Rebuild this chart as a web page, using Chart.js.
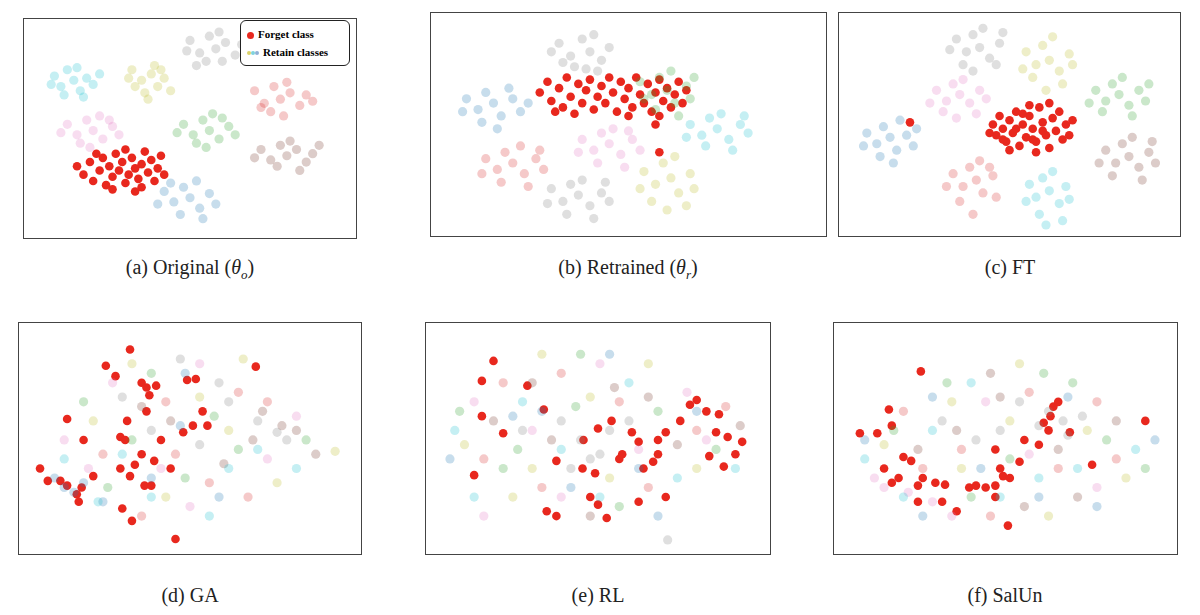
<!DOCTYPE html>
<html><head><meta charset="utf-8">
<script src="https://cdn.jsdelivr.net/npm/chart.js@4/dist/chart.umd.min.js"></script>
<style>
body{margin:0;background:#fff;width:1200px;height:615px;position:relative;overflow:hidden;font-family:"Liberation Serif",serif}
.box{position:absolute;border:1px solid #444;box-sizing:border-box}
.box canvas{position:absolute;left:0;top:0}
.cap{position:absolute;font-size:20px;transform:translateX(-50%);white-space:nowrap;color:#222}
.legend{position:absolute;left:240px;top:20px;width:110px;height:46px;border:1px solid #222;border-radius:6px;background:#fff;box-sizing:border-box;font-weight:bold;font-size:11px;padding:4px 0 0 6px;line-height:18px;z-index:5}
.dot{display:inline-block;width:7px;height:7px;border-radius:50%;margin-right:4px;vertical-align:middle}
.sd{display:inline-block;width:4px;height:4px;border-radius:50%;margin-right:0;vertical-align:middle}
</style></head><body>
<div class="box" style="left:23px;top:18px;width:334px;height:221px"><canvas id="ca"></canvas></div>
<div class="box" style="left:430px;top:12px;width:397px;height:225px"><canvas id="cb"></canvas></div>
<div class="box" style="left:838px;top:12px;width:343px;height:225px"><canvas id="cc"></canvas></div>
<div class="box" style="left:18px;top:322px;width:344px;height:233px"><canvas id="cd"></canvas></div>
<div class="box" style="left:425px;top:322px;width:346px;height:233px"><canvas id="ce"></canvas></div>
<div class="box" style="left:833px;top:322px;width:345px;height:233px"><canvas id="cf"></canvas></div>
<div class="legend"><span class="dot" style="background:#e8281e"></span>Forget class<br><span class="sd" style="background:#dcd36a"></span><span class="sd" style="background:#7fd3dd"></span><span class="sd" style="background:#8fb0d6;margin-right:4px"></span>Retain classes</div>
<div class="cap" style="left:190px;top:256px">(a) Original (<i>θ<sub style="font-size:13px">o</sub></i>)</div>
<div class="cap" style="left:628px;top:256px">(b) Retrained (<i>θ<sub style="font-size:13px">r</sub></i>)</div>
<div class="cap" style="left:1010px;top:256px">(c) FT</div>
<div class="cap" style="left:190px;top:584px">(d) GA</div>
<div class="cap" style="left:598px;top:584px">(e) RL</div>
<div class="cap" style="left:1005px;top:584px">(f) SalUn</div>
<script>
const colors={cyan:'rgba(23,190,207,0.25)',olive:'rgba(188,189,34,0.25)',gray:'rgba(127,127,127,0.25)',salmon:'rgba(214,39,40,0.25)',pink:'rgba(227,119,194,0.25)',green:'rgba(44,160,44,0.25)',brown:'rgba(140,86,75,0.3)',blue:'rgba(31,119,180,0.25)',forget:'#e8281e'};
// Panel (a) — percent of box
const aCyan=[[8,25],[10,30],[12,22],[14,27],[16,32],[18,26],[20,29],[11,34],[15,21],[22,24],[7,29],[17,35]];
const aOlive=[[32,22],[35,27],[38,24],[40,30],[36,33],[42,26],[33,30],[39,20],[44,32],[31,26],[37,36],[41,22]];
const aGray=[[50,8],[53,14],[56,6],[58,12],[61,9],[64,15],[55,18],[52,20],[60,18],[66,10],[49,13],[59,4]];
const aSalmon=[[70,32],[73,38],[76,30],[78,36],[81,33],[84,39],[75,42],[80,28],[86,34],[72,40],[79,44],[88,37]];
const aPink=[[12,48],[15,53],[18,46],[20,51],[23,55],[26,49],[16,57],[22,44],[28,53],[10,52],[19,59],[25,46]];
const aGreen=[[48,48],[51,53],[54,46],[56,51],[59,55],[62,49],[52,57],[57,43],[64,53],[46,52],[55,59],[60,45]];
const aBrown=[[72,60],[75,65],[78,58],[80,63],[83,60],[86,66],[77,68],[81,56],[88,62],[70,64],[84,70],[90,58]];
const aBlue=[[42,80],[45,85],[48,78],[50,83],[53,88],[56,81],[47,91],[52,75],[58,86],[40,86],[54,93],[44,76]];
const aForget=[[15,68],[17,72],[19,66],[20,75],[22,70],[23,64],[24,77],[25,68],[26,73],[27,62],[28,70],[29,66],[30,76],[31,72],[32,64],[33,69],[34,74],[35,67],[36,61],[37,71],[38,65],[39,75],[40,69],[41,63],[42,72],[26,79],[33,80],[21,62],[35,78],[30,60]];
// Panel (b)
const bGray=[[32,12],[35,18],[38,10],[40,16],[43,20],[36,23],[41,8],[45,14],[33,21],[39,24],[30,16],[42,25]];
const bBlue=[[8,38],[11,43],[13,35],[15,40],[17,46],[20,38],[12,49],[19,33],[22,44],[7,44],[16,52],[24,40]];
const bGreen=[[53,30],[56,36],[58,28],[60,34],[62,40],[65,32],[57,43],[61,25],[66,38],[54,38],[63,46],[67,28]];
const bCyan=[[66,50],[69,55],[71,47],[73,52],[76,57],[79,50],[70,60],[74,45],[81,54],[65,56],[77,62],[80,46]];
const bPink=[[38,57],[41,62],[43,54],[45,59],[48,64],[51,57],[42,68],[46,52],[53,62],[37,63],[49,70],[50,53]];
const bSalmon=[[13,66],[16,71],[18,63],[20,68],[23,73],[26,66],[17,77],[22,60],[28,71],[12,73],[24,79],[27,62]];
const bGray2=[[30,80],[33,86],[35,78],[37,83],[40,88],[43,82],[34,92],[38,76],[45,86],[29,87],[41,94],[44,77]];
const bOlive=[[54,72],[57,78],[59,68],[61,75],[63,82],[66,73],[56,86],[60,90],[65,88],[53,80],[62,65],[67,80]];
const bForget=[[27,35],[29,30],[30,39],[32,33],[33,42],[34,28],[35,37],[36,45],[37,31],[38,40],[39,34],[40,29],[41,43],[42,37],[43,32],[44,40],[45,28],[46,35],[47,44],[48,30],[49,38],[50,33],[51,42],[52,28],[53,36],[54,40],[55,31],[56,44],[57,35],[58,29],[59,39],[60,33],[61,42],[62,36],[63,30],[64,40],[65,34],[31,44],[50,46],[58,46],[57,50],[58,63]];
// Panel (c)
const cGray=[[34,10],[37,16],[39,8],[41,14],[44,19],[47,12],[36,22],[42,5],[46,22],[32,15],[39,25],[48,7]];
const cOlive=[[55,16],[58,22],[60,13],[62,20],[65,25],[68,17],[57,28],[63,9],[66,31],[54,24],[61,34],[69,22]];
const cPink=[[28,34],[31,39],[33,31],[35,36],[38,40],[41,34],[30,44],[36,29],[40,45],[26,40],[34,47],[43,38]];
const cGreen=[[76,34],[79,39],[81,31],[83,36],[86,41],[89,34],[78,44],[84,28],[91,39],[74,40],[87,46],[92,31]];
const cBlue=[[7,54],[10,59],[12,51],[14,56],[16,62],[19,55],[11,65],[17,48],[21,60],[6,60],[15,68],[22,52]];
const cBrown=[[79,62],[82,68],[84,59],[86,65],[89,70],[92,63],[81,74],[87,56],[94,68],[77,68],[90,76],[93,58]];
const cSalmon=[[33,73],[36,79],[38,70],[40,76],[42,82],[45,74],[35,86],[41,67],[46,84],[31,79],[39,92],[44,70]];
const cCyan=[[56,78],[58,84],[60,75],[62,81],[65,87],[67,79],[59,92],[63,72],[66,95],[55,86],[61,97],[68,85]];
const cForget=[[45,50],[46,55],[47,46],[48,52],[49,58],[50,48],[51,54],[52,44],[53,60],[54,50],[55,56],[56,46],[57,52],[58,58],[59,42],[60,49],[61,55],[62,61],[63,47],[64,53],[65,44],[66,57],[67,50],[68,55],[52,52],[56,41],[58,63],[60,53],[54,45],[50,62],[44,54],[69,48],[62,40],[57,57],[48,57],[20,49]];
// Panel (d) — page coordinates
const dCyan=[[60,460],[95,505],[150,500],[230,470],[260,450],[300,470],[210,520],[120,455]];
const dOlive=[[130,360],[245,355],[200,395],[90,420],[165,500],[280,485],[340,452],[230,430]];
const dGray=[[180,355],[220,380],[260,420],[280,432],[290,440],[150,430],[120,395],[230,400],[200,445]];
const dSalmon=[[165,400],[240,390],[100,455],[175,455],[210,485],[270,400],[140,520],[250,500]];
const dPink=[[110,380],[200,360],[160,470],[60,440],[270,460],[190,510],[300,415],[85,470]];
const dGreen=[[150,370],[215,415],[80,400],[130,440],[240,450],[105,490],[310,440],[185,480]];
const dBrown=[[265,410],[285,425],[300,430],[255,440],[170,420],[140,405],[225,465],[320,455]];
const dBlue=[[60,490],[70,495],[80,485],[50,480],[185,370],[180,425],[150,480],[220,500],[100,505]];
const dForget=[[128,345],[103,362],[113,373],[140,380],[145,385],[155,383],[148,393],[196,376],[187,377],[258,363],[203,410],[145,410],[125,420],[183,432],[193,425],[118,437],[123,440],[80,440],[63,418],[35,470],[43,483],[56,483],[63,488],[78,490],[90,478],[73,497],[75,505],[118,470],[128,478],[143,488],[150,488],[133,466],[140,455],[170,470],[160,440],[208,425],[120,512],[130,525],[175,544],[153,462]];
// Panel (e)
const eCyan=[[450,430],[520,400],[600,500],[680,480],[740,470],[560,450],[630,380],[470,500]];
const eOlive=[[460,445],[530,470],[590,395],[650,360],[700,470],[540,350],[610,480],[510,500]];
const eGray=[[580,440],[590,460],[600,455],[570,470],[610,430],[560,420],[630,420],[670,545],[520,430]];
const eSalmon=[[500,380],[560,370],[620,400],[700,430],[480,460],[650,490],[730,405],[540,490]];
const ePink=[[470,400],[530,430],[640,450],[710,440],[560,500],[600,360],[690,390],[480,520]];
const eGreen=[[455,410],[515,450],[575,405],[660,410],[720,450],[620,510],[500,470],[580,350]];
const eBrown=[[490,420],[550,440],[615,385],[680,445],[745,425],[590,520],[530,380],[650,395]];
const eBlue=[[445,460],[510,415],[570,490],[640,470],[700,410],[660,520],[540,410],[610,350]];
const eForget=[[490,357],[478,378],[525,383],[542,408],[478,415],[598,428],[612,420],[583,440],[633,432],[640,442],[660,440],[668,432],[683,420],[693,403],[700,398],[710,410],[723,413],[720,432],[732,437],[747,442],[740,455],[728,468],[713,457],[660,455],[655,463],[645,470],[620,460],[623,455],[595,475],[582,470],[555,462],[500,433],[470,477],[545,515],[555,520],[590,500],[598,508],[607,522],[640,505],[668,500]];
// Panel (f)
const fCyan=[[860,460],[930,430],[1000,500],[1080,470],[1140,450],[970,380],[1040,480],[900,500]];
const fOlive=[[880,445],[950,400],[1020,360],[1090,430],[1130,480],[960,470],[1050,520],[1010,420]];
const fGray=[[1050,410],[1065,420],[1070,435],[1040,425],[975,440],[1000,430],[1085,415],[1020,400],[940,420]];
const fSalmon=[[900,410],[960,450],[1030,390],[1100,400],[1120,460],[990,520],[920,470],[1060,470]];
const fPink=[[870,480],[880,490],[905,495],[930,505],[985,400],[1030,455],[1100,490],[950,520]];
const fGreen=[[890,430],[945,380],[1010,460],[1075,380],[1150,470],[970,500],[1045,370],[1110,440]];
const fBrown=[[915,450],[990,370],[1060,450],[1120,420],[1025,510],[955,430],[1080,500],[1000,395]];
const fBlue=[[860,440],[920,520],[980,470],[1040,500],[1100,510],[930,395],[1070,395],[1160,440]];
const fForget=[[918,368],[885,408],[855,433],[873,433],[888,425],[900,458],[908,462],[880,470],[895,480],[888,485],[915,488],[920,480],[933,485],[943,487],[940,505],[955,515],[915,505],[968,490],[975,488],[985,490],[995,488],[1003,478],[1000,470],[995,450],[1020,463],[1010,480],[995,500],[1040,445],[1045,422],[1052,415],[1055,405],[1060,400],[1072,432],[1050,430],[1095,466],[1150,420],[1008,530],[1025,440]];

function ds(arr,col,r){return {data:arr.map(p=>({x:p[0],y:p[1]})),backgroundColor:col,borderWidth:0,pointRadius:r,pointHoverRadius:r};}
function make(id,xb,yb,light,forget){
  const cv=document.getElementById(id);const box=cv.parentElement;
  cv.width=box.clientWidth;cv.height=box.clientHeight;
  const sets=light.map(([a,c])=>ds(a,colors[c],4.6));sets.push(ds(forget,colors.forget,4.3));
  new Chart(cv,{type:'scatter',data:{datasets:sets},options:{responsive:false,animation:false,
    layout:{padding:0},plugins:{legend:{display:false},tooltip:{enabled:false}},
    scales:{x:{display:false,min:xb[0],max:xb[1]},y:{display:false,min:yb[0],max:yb[1],reverse:true}}}});
}
make('ca',[0,100],[0,100],[[aCyan,'cyan'],[aOlive,'olive'],[aGray,'gray'],[aSalmon,'salmon'],[aPink,'pink'],[aGreen,'green'],[aBrown,'brown'],[aBlue,'blue']],aForget);
make('cb',[0,100],[0,100],[[bGray,'gray'],[bBlue,'blue'],[bGreen,'green'],[bCyan,'cyan'],[bPink,'pink'],[bSalmon,'salmon'],[bGray2,'gray'],[bOlive,'olive']],bForget);
make('cc',[0,100],[0,100],[[cGray,'gray'],[cOlive,'olive'],[cPink,'pink'],[cGreen,'green'],[cBlue,'blue'],[cBrown,'brown'],[cSalmon,'salmon'],[cCyan,'cyan']],cForget);
make('cd',[18,362],[322,555],[[dCyan,'cyan'],[dOlive,'olive'],[dGray,'gray'],[dSalmon,'salmon'],[dPink,'pink'],[dGreen,'green'],[dBrown,'brown'],[dBlue,'blue']],dForget);
make('ce',[425,771],[322,555],[[eCyan,'cyan'],[eOlive,'olive'],[eGray,'gray'],[eSalmon,'salmon'],[ePink,'pink'],[eGreen,'green'],[eBrown,'brown'],[eBlue,'blue']],eForget);
make('cf',[833,1178],[322,555],[[fCyan,'cyan'],[fOlive,'olive'],[fGray,'gray'],[fSalmon,'salmon'],[fPink,'pink'],[fGreen,'green'],[fBrown,'brown'],[fBlue,'blue']],fForget);
</script></body></html>
